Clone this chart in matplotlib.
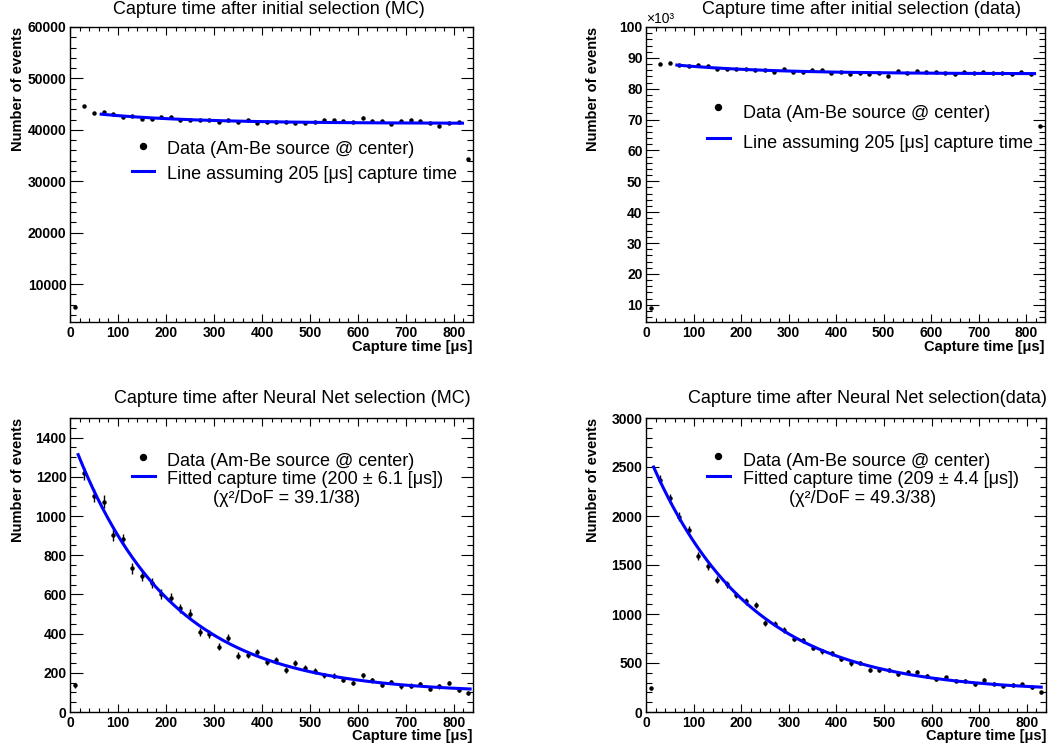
import numpy as np
import matplotlib
matplotlib.use("Agg")
import matplotlib.pyplot as plt
from matplotlib.ticker import MultipleLocator
from matplotlib.lines import Line2D

plt.rcParams['font.family'] = ['Liberation Sans', 'DejaVu Sans']

# ---------------- data ----------------
bin_centers = [10, 30, 50, 70, 90, 110, 130, 150, 170, 190, 210, 230, 250, 270, 290,
               310, 330, 350, 370, 390, 410, 430, 450, 470, 490, 510, 530, 550, 570,
               590, 610, 630, 650, 670, 690, 710, 730, 750, 770, 790, 810, 830]

mc_initial = [5450, 44680, 43310, 43440, 42990, 42470, 42660, 42140, 42140, 42530, 42470,
              41950, 41880, 41950, 41950, 41490, 41820, 41490, 41950, 41360, 41560, 41560,
              41490, 41300, 41300, 41490, 41880, 41880, 41690, 41560, 42400, 41750, 41750,
              41100, 41690, 41880, 41690, 41360, 40840, 41300, 41560, 34290]

data_initial = [8800, 88150, 88370, 87720, 87500, 87600, 87280, 86520, 86400, 86500, 86400,
                86200, 86100, 85400, 86400, 85400, 85400, 86100, 86100, 85100, 85300, 84800,
                85000, 84900, 85200, 84200, 85650, 85100, 85870, 85300, 85300, 85100, 84900,
                85540, 85000, 85300, 85100, 85000, 84700, 85300, 84900, 68000]

mc_nn = [136, 1217, 1103, 1072, 903, 881, 733, 694, 657, 601, 584, 529, 502, 407, 400,
         334, 380, 288, 292, 304, 255, 263, 216, 248, 224, 210, 187, 185, 165, 148, 187,
         163, 139, 153, 131, 134, 143, 119, 131, 148, 112, 97]

data_nn = [244, 2372, 2182, 1992, 1853, 1591, 1490, 1350, 1303, 1194, 1130, 1093, 906, 903,
           835, 750, 730, 658, 618, 601, 543, 495, 499, 431, 424, 431, 390, 404, 404, 366,
           339, 353, 319, 319, 285, 326, 288, 268, 275, 282, 254, 200]

# model curves: constant + amplitude * exp(-t / tau) over [t_start, t_end]
mc_initial_line = dict(const=41250, amp=2460, tau=205, t_start=65, t_end=818)
data_initial_line = dict(const=84825, amp=3900, tau=205, t_start=65, t_end=818)
mc_nn_fit = dict(const=97, amp=1324, tau=200, t_start=17, t_end=834)
data_nn_fit = dict(const=207, amp=2475, tau=209, t_start=16, t_end=830)

titles = ["Capture time after initial selection (MC)",
          "Capture time after initial selection (data)",
          "Capture time after Neural Net selection (MC)",
          "Capture time after Neural Net selection(data)"]
legend_data = "Data (Am-Be source @ center)"
legend_line = "Line assuming 205 [\u03bcs] capture time"
legend_fit_mc = "Fitted capture time (200 \u00b1 6.1 [\u03bcs])"
legend_fit_data = "Fitted capture time (209 \u00b1 4.4 [\u03bcs])"
chi2_mc = "(\u03c7\u00b2/DoF = 39.1/38)"
chi2_data = "(\u03c7\u00b2/DoF = 49.3/38)"
xlabel = "Capture time [\u03bcs]"
ylabel = "Number of events"

# ---------------- figure ----------------
W, H = 1062, 751
fig = plt.figure(figsize=(W / 100, H / 100), dpi=100)


def rect(x0, y0, x1, y1):
    return [x0 / W, 1 - y1 / H, (x1 - x0) / W, (y1 - y0) / H]


def fx(x):
    return x / W


def fy(y):
    return 1 - y / H


def style_axes(ax, ymajor, yminor):
    ax.set_xlim(0, 840)
    ax.xaxis.set_major_locator(MultipleLocator(100))
    ax.xaxis.set_minor_locator(MultipleLocator(20))
    ax.yaxis.set_major_locator(MultipleLocator(ymajor))
    ax.yaxis.set_minor_locator(MultipleLocator(yminor))
    ax.tick_params(which='both', direction='in', top=True, right=True,
                   color='black', width=0.8, labelsize=10)
    ax.tick_params(axis='x', which='major', length=5.8, pad=3)
    ax.tick_params(axis='x', which='minor', length=2.9)
    ax.tick_params(axis='y', which='major', length=9, pad=2.5)
    ax.tick_params(axis='y', which='minor', length=4.5)
    for lab in ax.get_xticklabels() + ax.get_yticklabels():
        lab.set_fontweight('bold')
    for sp in ax.spines.values():
        sp.set_linewidth(1.0)


def model(p, scale=1.0):
    t = np.linspace(p['t_start'], p['t_end'], 400)
    return t, (p['const'] + p['amp'] * np.exp(-t / p['tau'])) / scale


def draw_points(ax, vals, scale=1.0, ms=2.2):
    v = np.array(vals, dtype=float)
    ax.errorbar(bin_centers, v / scale, yerr=np.sqrt(v) / scale, fmt='o', color='black',
                ms=ms, elinewidth=1.0, capsize=0, zorder=3)


blue = (0, 0, 1)

panels = [
    dict(r=(70, 27, 473, 322), vals=mc_initial, line=mc_initial_line, scale=1.0,
         ylim=(2630, 60000), ymaj=10000, ymin=2000, title=titles[0], tx=269, ty=10,
         ylab_x=18, xlab=(473, 347)),
    dict(r=(646, 27, 1045, 322), vals=data_initial, line=data_initial_line, scale=1000.0,
         ylim=(4.4, 100), ymaj=10, ymin=2, title=titles[1], tx=861, ty=10,
         ylab_x=593, xlab=(1045, 347)),
    dict(r=(70, 418, 473, 712), vals=mc_nn, line=mc_nn_fit, scale=1.0,
         ylim=(0, 1500), ymaj=200, ymin=50, title=titles[2], tx=292, ty=399,
         ylab_x=18, xlab=(473, 736)),
    dict(r=(646, 418, 1046, 712), vals=data_nn, line=data_nn_fit, scale=1.0,
         ylim=(0, 3000), ymaj=500, ymin=100, title=titles[3], tx=867, ty=399,
         ylab_x=593, xlab=(1046, 736)),
]

for i, p in enumerate(panels):
    ax = fig.add_axes(rect(*p['r']))
    t, y = model(p['line'], p['scale'])
    draw_points(ax, p['vals'], p['scale'])
    ax.plot(t, y, color=blue, lw=2.2, zorder=4)
    ax.set_ylim(*p['ylim'])
    style_axes(ax, p['ymaj'], p['ymin'])
    fig.text(fx(p['tx']), fy(p['ty']), p['title'], ha='center', va='center', fontsize=13)
    fig.text(fx(p['ylab_x']), fy(p['r'][1]), ylabel, rotation=90, ha='center', va='top',
             fontsize=10.5, fontweight='bold')
    fig.text(fx(p['xlab'][0]), fy(p['xlab'][1]), xlabel, ha='right', va='center',
             fontsize=10.5, fontweight='bold')

# multiplier for top-right panel
fig.text(fx(646), fy(19), "\u00d710\u00b3", ha='left', va='center', fontsize=10)


# ---------------- legends ----------------
def legend_marker(x, y):
    fig.add_artist(Line2D([fx(x)], [fy(y)], marker='o', color='black', ms=4.3,
                          transform=fig.transFigure, linestyle='none'))


def legend_line_key(x0, x1, y):
    fig.add_artist(Line2D([fx(x0), fx(x1)], [fy(y), fy(y)], color=blue, lw=2.2,
                          transform=fig.transFigure))


# top-left
legend_marker(142.7, 145.7)
fig.text(fx(166.7), fy(149), legend_data, ha='left', va='center', fontsize=13)
legend_line_key(131.7, 154.3, 171)
fig.text(fx(166.7), fy(174.3), legend_line, ha='left', va='center', fontsize=13)

# top-right
legend_marker(718.3, 107.3)
fig.text(fx(742.7), fy(114), legend_data, ha='left', va='center', fontsize=13)
legend_line_key(707, 730, 137.7)
fig.text(fx(742.7), fy(144), legend_line, ha='left', va='center', fontsize=13)

# bottom-left
legend_marker(143.3, 456.7)
fig.text(fx(166.7), fy(461), legend_data, ha='left', va='center', fontsize=13)
legend_line_key(131.7, 155, 476)
fig.text(fx(166.7), fy(480), legend_fit_mc, ha='left', va='center', fontsize=13)
fig.text(fx(287), fy(498.3), chi2_mc, ha='center', va='center', fontsize=13)

# bottom-right
legend_marker(718.3, 456)
fig.text(fx(742.7), fy(461), legend_data, ha='left', va='center', fontsize=13)
legend_line_key(707, 730.3, 475.7)
fig.text(fx(742.7), fy(480), legend_fit_data, ha='left', va='center', fontsize=13)
fig.text(fx(862.7), fy(498.3), chi2_data, ha='center', va='center', fontsize=13)

fig.savefig("out.png", dpi=100)
